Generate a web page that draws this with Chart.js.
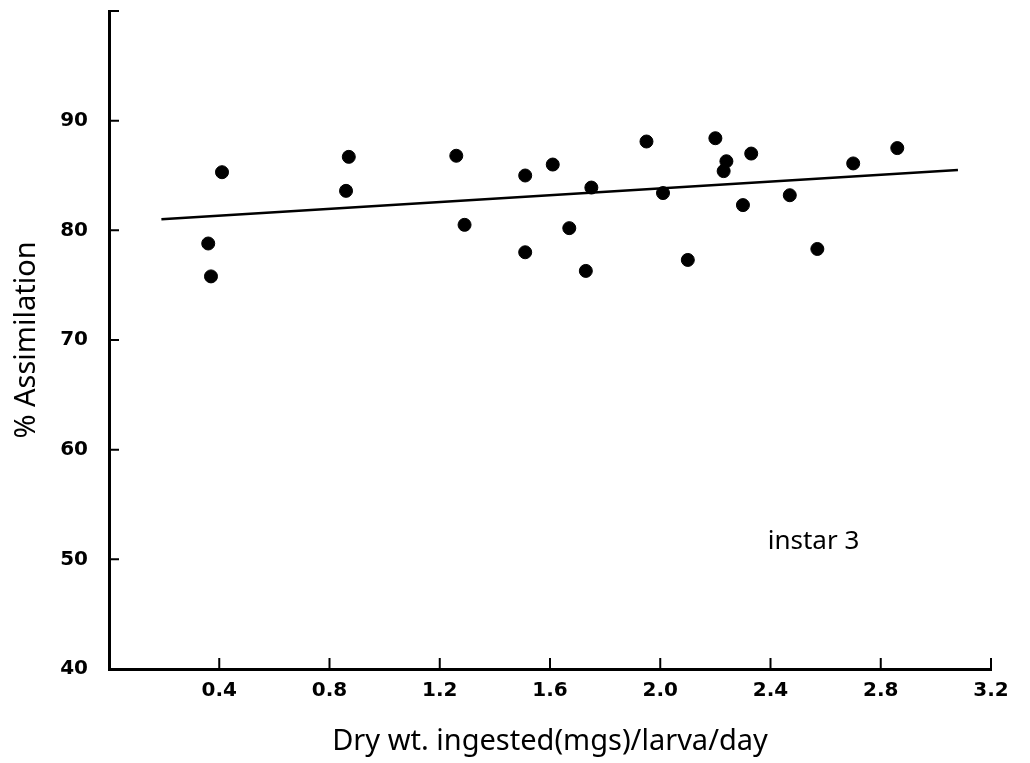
<!DOCTYPE html>
<html>
<head>
<meta charset="utf-8">
<script src="https://cdn.jsdelivr.net/npm/chart.js@4.4.0/dist/chart.umd.min.js"></script>
<style>
  body { margin: 0; background: #fff; }
  canvas { display: block; }
</style>
</head>
<body>
<canvas id="assimChart" width="1030" height="763"></canvas>
<script>
// Dry weight ingested (mgs/larva/day) for each larva
const ingested = [0.36, 0.37, 0.41, 0.87, 0.86, 1.26, 1.29, 1.51, 1.51, 1.61, 1.67, 1.73, 1.75,
                  1.95, 2.01, 2.10, 2.20, 2.23, 2.24, 2.30, 2.33, 2.47, 2.57, 2.70, 2.86];
// % assimilation for each larva
const assimilation = [78.8, 75.8, 85.3, 86.7, 83.6, 86.8, 80.5, 85.0, 78.0, 86.0, 80.2, 76.3, 83.9,
                      88.1, 83.4, 77.3, 88.4, 85.4, 86.3, 82.3, 87.0, 83.2, 78.3, 86.1, 87.5];
// fitted line, start and end
const fitX = [0.19, 3.08];
const fitY = [81.0, 85.5];

const xTicks = [0.4, 0.8, 1.2, 1.6, 2.0, 2.4, 2.8, 3.2];
const yTicks = [40, 50, 60, 70, 80, 90, 100];

const noteText = 'instar 3';

document.addEventListener('DOMContentLoaded', function () {
    const points = ingested.map((x, i) => ({ x: x, y: assimilation[i] }));
    const fitLine = fitX.map((x, i) => ({ x: x, y: fitY[i] }));

    // short tick marks pointing into the plot, plus the "instar 3" note
    const extrasPlugin = {
        id: 'extras',
        afterDatasetsDraw(chart) {
            const { ctx, scales, chartArea } = chart;
            ctx.save();
            ctx.strokeStyle = '#000';
            ctx.lineWidth = 2;
            ctx.beginPath();
            yTicks.forEach(v => {
                const py = scales.y.getPixelForValue(v);
                ctx.moveTo(chartArea.left, py);
                ctx.lineTo(chartArea.left + 10, py);
            });
            xTicks.forEach(v => {
                const px = scales.x.getPixelForValue(v);
                ctx.moveTo(px, chartArea.bottom);
                ctx.lineTo(px, chartArea.bottom - 11);
            });
            ctx.stroke();

            ctx.font = '26px "Noto Sans"';
            ctx.fillStyle = '#000';
            ctx.textAlign = 'left';
            ctx.textBaseline = 'middle';
            ctx.fillText(noteText, scales.x.getPixelForValue(2.39), scales.y.getPixelForValue(51.6));
            ctx.restore();
        }
    };

    const tickFont = { family: '"DejaVu Sans"', size: 20, weight: 'bold' };
    const titleFont = { family: '"Noto Sans"', size: 29 };

    new Chart(document.getElementById('assimChart'), {
        type: 'scatter',
        data: {
            datasets: [
                {
                    data: points,
                    backgroundColor: '#000',
                    borderColor: '#000',
                    pointRadius: 6.5,
                    pointHoverRadius: 6.5,
                },
                {
                    type: 'line',
                    data: fitLine,
                    borderColor: '#000',
                    borderWidth: 2.5,
                    pointRadius: 0,
                    fill: false,
                },
            ],
        },
        options: {
            responsive: false,
            animation: false,
            events: [],
            layout: { padding: { top: 11, right: 39, bottom: 0, left: 0 } },
            plugins: {
                legend: { display: false },
                tooltip: { enabled: false },
            },
            scales: {
                x: {
                    type: 'linear',
                    min: 0,
                    max: 3.2,
                    afterFit: scale => {
                        scale.height = 94;
                        scale.paddingLeft = 0;
                        scale.paddingRight = 0;
                    },
                    afterBuildTicks: scale => { scale.ticks = xTicks.map(v => ({ value: v })); },
                    ticks: {
                        color: '#000',
                        font: tickFont,
                        padding: 10,
                        maxRotation: 0,
                        callback: v => v.toFixed(1),
                    },
                    grid: { drawOnChartArea: false, drawTicks: false },
                    border: { color: '#000', width: 3 },
                    title: {
                        display: true,
                        text: 'Dry wt. ingested(mgs)/larva/day',
                        color: '#000',
                        font: titleFont,
                        padding: { top: 0, bottom: 4 },
                    },
                },
                y: {
                    type: 'linear',
                    min: 40,
                    max: 100,
                    afterFit: scale => {
                        scale.width = 109;
                        scale.paddingTop = 0;
                        scale.paddingBottom = 0;
                    },
                    afterBuildTicks: scale => { scale.ticks = yTicks.map(v => ({ value: v })); },
                    ticks: {
                        color: '#000',
                        font: tickFont,
                        padding: 21,
                        callback: v => (v === 100 ? '' : String(v)),
                    },
                    grid: { drawOnChartArea: false, drawTicks: false },
                    border: { color: '#000', width: 3 },
                    title: {
                        display: true,
                        text: '% Assimilation',
                        color: '#000',
                        font: titleFont,
                        padding: { top: 9, bottom: 0 },
                    },
                },
            },
        },
        plugins: [extrasPlugin],
    });
});
</script>
</body>
</html>
